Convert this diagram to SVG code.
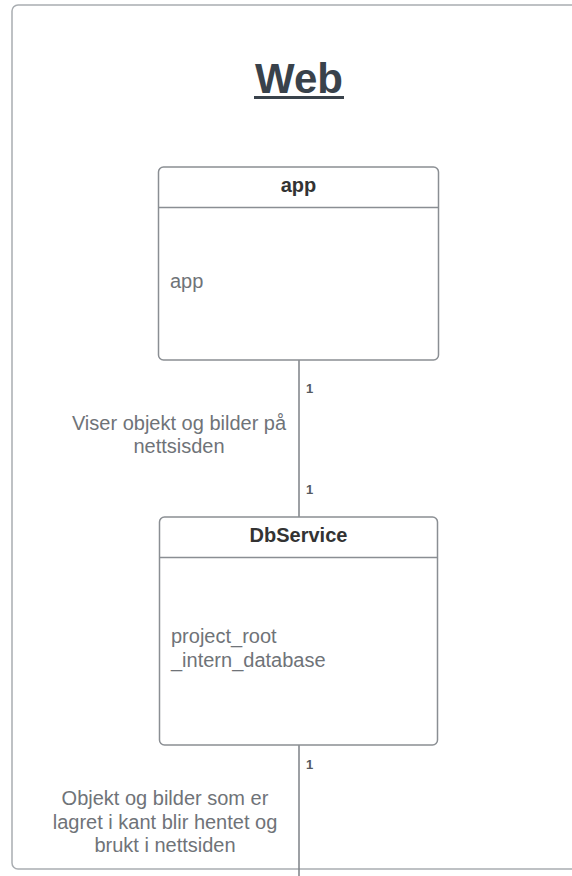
<svg xmlns="http://www.w3.org/2000/svg" width="572" height="876" viewBox="0 0 572 876">
  <style>
    .frame { fill: #ffffff; stroke: #a9adb1; stroke-width: 1.5; }
    .box { fill: #ffffff; stroke: #8a8e93; stroke-width: 1.5; }
    .divider { stroke: #8a8e93; stroke-width: 1.5; }
    .title { font-family: "Liberation Sans", Arial, sans-serif; font-size: 42px; font-weight: bold; fill: #39424b; text-anchor: middle; }
    .head { font-family: "Liberation Sans", Arial, sans-serif; font-size: 20px; font-weight: bold; fill: #333333; text-anchor: middle; }
    .body { font-family: "Liberation Sans", Arial, sans-serif; font-size: 20px; fill: #6f7378; }
    .label { font-family: "Liberation Sans", Arial, sans-serif; font-size: 20px; fill: #6f7378; text-anchor: middle; }
    .mult { font-family: "Liberation Sans", Arial, sans-serif; font-size: 13px; font-weight: bold; fill: #555a5f; }
    .edge { stroke: #7d8186; stroke-width: 1.5; fill: none; }
  </style>

  <rect width="572" height="876" fill="#ffffff"/>

  <!-- package frame -->
  <g id="web">
    <rect class="frame" x="12" y="5" width="600" height="864" rx="6"/>
    <text class="title" x="299" y="93">Web</text>
    <line x1="254" y1="97.5" x2="344" y2="97.5" stroke="#39424b" stroke-width="3"/>
  </g>

  <!-- connectors -->
  <g id="connectors">
    <line class="edge" x1="299" y1="360" x2="299" y2="517"/>
    <text class="mult" x="306" y="393">1</text>
    <text class="mult" x="306" y="494">1</text>
    <text class="label" x="179" y="430">Viser objekt og bilder på</text>
    <text class="label" x="179" y="453">nettsisden</text>

    <line class="edge" x1="299" y1="745" x2="299" y2="876"/>
    <text class="mult" x="306" y="769">1</text>
    <text class="label" x="165" y="805">Objekt og bilder som er</text>
    <text class="label" x="165" y="829">lagret i kant blir hentet og</text>
    <text class="label" x="165" y="852">brukt i nettsiden</text>
  </g>

  <!-- class: app -->
  <g id="app">
    <rect class="box" x="158.5" y="167" width="280" height="193" rx="5"/>
    <line class="divider" x1="158.5" y1="207.5" x2="438.5" y2="207.5"/>
    <text class="head" x="298.5" y="192">app</text>
    <text class="body" x="170" y="288">app</text>
  </g>

  <!-- class: DbService -->
  <g id="dbservice">
    <rect class="box" x="159.5" y="517" width="278" height="228" rx="5"/>
    <line class="divider" x1="159.5" y1="557.5" x2="437.5" y2="557.5"/>
    <text class="head" x="298.5" y="542">DbService</text>
    <text class="body" x="171" y="643">project_root</text>
    <text class="body" x="171" y="667">_intern_database</text>
  </g>
</svg>
